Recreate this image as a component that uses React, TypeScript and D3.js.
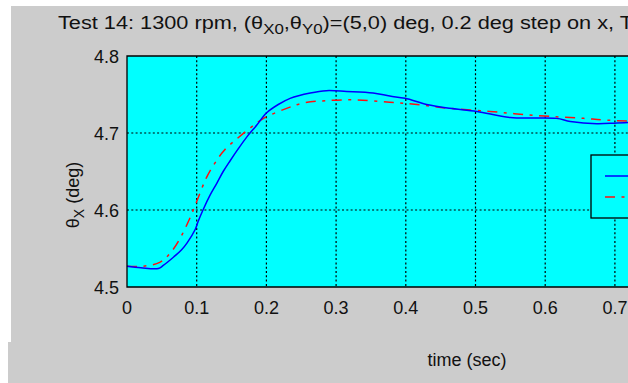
import React from 'react';
import * as d3 from 'd3';

// measured (solid blue) and model (red dash-dot) responses
const measTime = [0, 0.02, 0.045, 0.052, 0.067, 0.078, 0.086, 0.098, 0.102, 0.11, 0.119, 0.129, 0.138, 0.148, 0.16, 0.172, 0.186, 0.2, 0.217, 0.234, 0.263, 0.286, 0.315, 0.353, 0.377, 0.399, 0.43, 0.463, 0.502, 0.55, 0.616, 0.636, 0.674, 0.703, 0.73];
const measTheta = [4.527, 4.525, 4.524, 4.528, 4.539, 4.548, 4.557, 4.575, 4.585, 4.602, 4.619, 4.635, 4.65, 4.664, 4.68, 4.695, 4.71, 4.726, 4.737, 4.745, 4.752, 4.755, 4.754, 4.752, 4.748, 4.745, 4.737, 4.732, 4.728, 4.72, 4.719, 4.715, 4.712, 4.713, 4.714];
const simTime = [0, 0.023, 0.047, 0.062, 0.076, 0.09, 0.1, 0.114, 0.129, 0.14, 0.157, 0.176, 0.196, 0.229, 0.253, 0.286, 0.329, 0.377, 0.416, 0.463, 0.521, 0.569, 0.616, 0.655, 0.683, 0.73];
const simTheta = [4.527, 4.527, 4.532, 4.544, 4.563, 4.589, 4.611, 4.642, 4.665, 4.678, 4.692, 4.706, 4.719, 4.732, 4.739, 4.742, 4.743, 4.74, 4.737, 4.732, 4.728, 4.724, 4.721, 4.719, 4.717, 4.715];
const xTicks = [0, 0.1, 0.2, 0.3, 0.4, 0.5, 0.6, 0.7];
const yTicks = [4.5, 4.6, 4.7, 4.8];

const font = "'Liberation Sans', Arial, sans-serif";

export default function App() {
  const left = 127;
  const top = 56;
  const bottom = 287;
  const x = d3.scaleLinear().domain([0, 0.8]).range([left, left + 697 * 0.8]);
  const y = d3.scaleLinear().domain([4.5, 4.8]).range([bottom, top]);
  const right = x(0.8);

  const line = d3
    .line<[number, number]>()
    .x((d) => x(d[0]))
    .y((d) => y(d[1]))
    .curve(d3.curveCatmullRom.alpha(0.5));
  const meas = measTime.map((t, i) => [t, measTheta[i]] as [number, number]);
  const sim = simTime.map((t, i) => [t, simTheta[i]] as [number, number]);

  return (
    <svg width={628} height={383} style={{ position: 'absolute', left: 0, top: 0, fontFamily: font }}>
      <rect x={0} y={0} width={628} height={383} fill='#fff' />
      <rect x={11} y={6} width={617} height={377} fill='#cccccc' />
      <rect x={8} y={342} width={620} height={41} fill='#cccccc' />
      <text x={58} y={29} fontSize={18} fill='#111' textLength={575} lengthAdjust='spacingAndGlyphs'>
        Test 14: 1300 rpm, (θ<tspan fontSize={14} dy={5}>X0</tspan>
        <tspan dy={-5}>,θ</tspan>
        <tspan fontSize={14} dy={5}>Y0</tspan>
        <tspan dy={-5}>)=(5,0) deg, 0.2 deg step on x, T</tspan>
      </text>
      <rect x={left} y={top} width={right - left} height={bottom - top} fill='#00ffff' />
      <g stroke='#000' strokeWidth={1.2} strokeDasharray='2,2.3'>
        {xTicks.slice(1).map((t) => (
          <line key={t} x1={x(t)} x2={x(t)} y1={top} y2={bottom} />
        ))}
        {yTicks.slice(1, -1).map((v) => (
          <line key={v} x1={left} x2={right} y1={y(v)} y2={y(v)} />
        ))}
      </g>
      <path d={line(sim) ?? ''} fill='none' stroke='#ff1010' strokeWidth={1.5} strokeDasharray='10,6.5,3,6.5' />
      <path d={line(meas) ?? ''} fill='none' stroke='#0000ff' strokeWidth={1.5} />
      <path d={`M${right},${top}H${left}V${bottom}H${right}`} fill='none' stroke='#000' strokeWidth={1.3} />
      {yTicks.map((v) => (
        <text key={v} x={119} y={y(v) + 7} fontSize={18} textAnchor='end' fill='#111'>
          {v.toFixed(1)}
        </text>
      ))}
      {xTicks.map((t) => (
        <text key={t} x={x(t)} y={314} fontSize={18} textAnchor='middle' fill='#111'>
          {t === 0 ? '0' : t.toFixed(1)}
        </text>
      ))}
      <text x={467} y={366} fontSize={18} textAnchor='middle' fill='#111'>
        time (sec)
      </text>
      <text transform='translate(79,195) rotate(-90)' fontSize={18} textAnchor='middle' fill='#111'>
        θ<tspan fontSize={14} dy={5}>X</tspan>
        <tspan dy={-5}> (deg)</tspan>
      </text>
      <rect x={591} y={155} width={60} height={63} fill='#00ffff' stroke='#000' strokeWidth={1.3} />
      <line x1={605} x2={640} y1={176} y2={176} stroke='#0000ff' strokeWidth={1.5} />
      <line x1={605} x2={640} y1={197} y2={197} stroke='#ff1010' strokeWidth={1.5} strokeDasharray='10,6.5,3,6.5' />
    </svg>
  );
}
